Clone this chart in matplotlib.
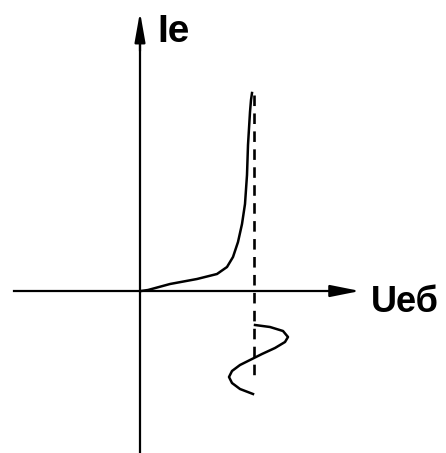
import matplotlib
matplotlib.use('Agg')
import matplotlib.pyplot as plt

# input characteristic (x: Uеб, y: Iе), origin at axes crossing
curve_u = [1, 8, 30, 57, 77, 87, 93, 98, 102, 105, 107, 108, 110, 111, 112]
curve_i = [0, 1, 7, 12, 17, 24, 34, 49, 67, 87, 116, 146, 179, 191, 198]

# input signal drawn below the axis
wave_u = [115, 130, 143, 148, 145, 135, 122, 110, 100, 92, 89, 92, 100, 113]
wave_i = [-34, -36, -40, -46, -51, -57, -63, -69, -74, -80, -86, -92, -98, -103]

# operating point line
bias_u = 114
bias_top = 196
bias_bottom = -86

x_label = 'Uеб'
y_label = 'Iе'


def main():
    fig = plt.figure(figsize=(4.46, 4.53), dpi=100)
    ax = fig.add_axes([0, 0, 1, 1])
    ax.set_xlim(-140, 306)
    ax.set_ylim(-162, 291)
    ax.axis('off')

    # axes lines with arrow heads
    ax.plot([-126, 205], [0, 0], color='black', lw=1.6)
    ax.plot([0, 0], [-162, 255], color='black', lw=1.6)
    ax.annotate('', xy=(220, 0), xytext=(190, 0),
                arrowprops=dict(arrowstyle='-|>,head_length=1.8,head_width=0.36',
                                mutation_scale=10, color='black', lw=1.6,
                                shrinkA=0, shrinkB=0))
    ax.annotate('', xy=(0, 279), xytext=(0, 240),
                arrowprops=dict(arrowstyle='-|>,head_length=1.8,head_width=0.32',
                                mutation_scale=10, color='black', lw=1.6,
                                shrinkA=0, shrinkB=0))

    ax.plot(curve_u, curve_i, color='black', lw=1.8)
    ax.plot([bias_u, bias_u], [bias_top, bias_bottom], color='black', lw=1.9,
            dashes=(4, 2.8))
    ax.plot(wave_u, wave_i, color='black', lw=1.8)

    font = ['Liberation Sans', 'DejaVu Sans']
    ax.text(17, 249, y_label, family=font, fontweight='bold', fontsize=28,
            ha='left', va='baseline')
    ax.text(231, -21, x_label, family=font, fontweight='bold', fontsize=26,
            ha='left', va='baseline')

    fig.savefig('out.png', dpi=100)


if __name__ == '__main__':
    main()
